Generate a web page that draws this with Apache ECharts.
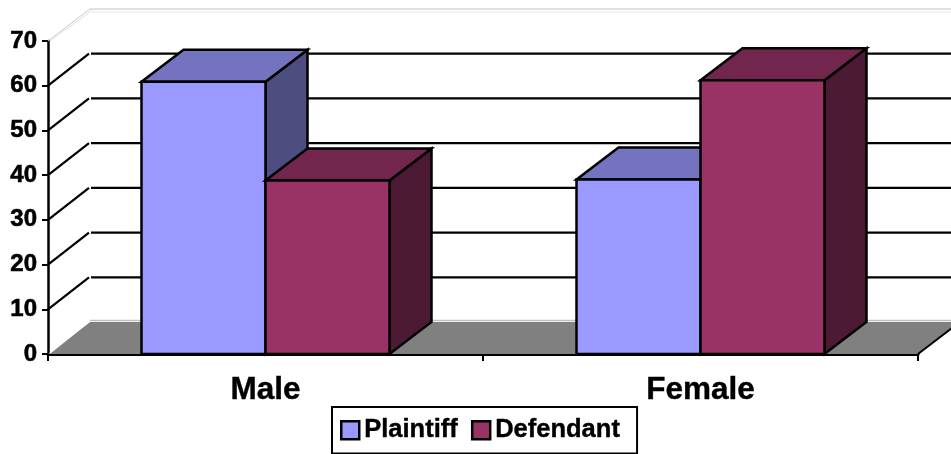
<!DOCTYPE html>
<html>
<head>
<meta charset="utf-8">
<style>html,body{margin:0;padding:0;background:#fff}#chart{width:951px;height:454px}</style>
<script src="https://cdn.jsdelivr.net/npm/echarts@6/dist/echarts.min.js"></script>
</head>
<body>
<div id="chart"></div>
<script>
const categories = ['Male', 'Female'];
const plaintiff = [60.9, 39.0];
const defendant = [38.8, 61.2];
const valueTicks = [0, 10, 20, 30, 40, 50, 60, 70];

// Oblique projection: how far the back plane sits from the front plane.
const DEPTH_X = 42;
const DEPTH_Y = -32;
const BAR_SHARE = 124 / 435;
const FONT = '"Liberation Sans", Arial, sans-serif';

function line(x1, y1, x2, y2, stroke, width) {
  return { type: 'line', silent: true, shape: { x1, y1, x2, y2 }, style: { stroke, lineWidth: width } };
}
function face(points, fill) {
  return {
    type: 'polygon', shape: { points },
    style: { fill, stroke: '#000', lineWidth: 2.5, lineJoin: 'miter' }
  };
}

// Back wall rules, side wall rules and the grey floor.
function renderWall(params, api) {
  const value = api.value(1);
  const band = api.size([1, 0])[0];
  const [first, y] = api.coord([0, value]);
  const [last] = api.coord([categories.length - 1, value]);
  const x0 = first - band / 2, x1 = last + band / 2;
  const backX0 = x0 + DEPTH_X, backX1 = x1 + DEPTH_X, backY = y + DEPTH_Y;
  const children = [];
  if (value === valueTicks[0]) {
    children.push({
      type: 'polygon', silent: true,
      shape: { points: [[x0, y], [backX0, backY], [backX1, backY], [x1, y]] },
      style: { fill: '#808080' }
    });
    children.push(line(x0 + 2, y - 1, backX0, backY - 1, '#ffffff', 1.5));
    children.push(line(backX0, backY - 1.5, backX1, backY - 1.5, '#c0c0c0', 1.5));
    children.push(line(x1, y, backX1, backY, '#000', 2));
  } else if (value === valueTicks[valueTicks.length - 1]) {
    children.push(line(x0, y, backX0, backY, '#c8c8c8', 1));
    children.push(line(x0 + 2, y, backX0 + 2, backY + 1.5, '#e0e0e0', 1));
    children.push(line(backX0, backY, backX1, backY, '#c0c0c0', 1));
    children.push(line(backX0 + 2, backY + 3, backX1, backY + 3, '#e4e4e4', 1));
  } else {
    children.push(line(x0, y, backX0 - 1, backY, '#000', 2.2));
    children.push(line(backX0 + 1, backY, backX1, backY, '#000', 2.2));
  }
  return { type: 'group', children };
}

// One oblique bar: front, top and side faces.
function barRenderer(slot, colors) {
  return function (params, api) {
    const cat = api.value(0);
    const [cx, top] = api.coord([cat, api.value(1)]);
    const [, base] = api.coord([cat, 0]);
    const w = api.size([1, 0])[0] * BAR_SHARE;
    const l = cx + slot * w, r = l + w;
    return {
      type: 'group',
      children: [
        face([[r, top], [r + DEPTH_X, top + DEPTH_Y], [r + DEPTH_X, base + DEPTH_Y], [r, base]], colors.side),
        face([[l, top], [l + DEPTH_X, top + DEPTH_Y], [r + DEPTH_X, top + DEPTH_Y], [r, top]], colors.top),
        face([[l, top], [r, top], [r, base], [l, base]], colors.front)
      ]
    };
  };
}

const plaintiffColors = { front: '#9999ff', top: '#7373bf', side: '#4d4d80' };
const defendantColors = { front: '#993366', top: '#73264d', side: '#4d1a33' };

const chart = echarts.init(document.getElementById('chart'), null, { renderer: 'canvas' });
chart.setOption({
  animation: false,
  backgroundColor: '#ffffff',
  grid: { left: 48, right: 33, top: 41, bottom: 100, containLabel: false },
  legend: {
    data: ['Plaintiff', 'Defendant'],
    left: 332, top: 407,
    padding: [10, 17, 10, 8],
    itemWidth: 18, itemHeight: 18, itemGap: 13,
    icon: 'rect',
    backgroundColor: '#ffffff',
    borderColor: '#000', borderWidth: 2, borderRadius: 0,
    selectedMode: false,
    itemStyle: { borderColor: '#000', borderWidth: 2.5 },
    textStyle: {
      fontFamily: FONT, fontWeight: 'bold', fontSize: 25.5, color: '#000',
      padding: [3, 0, 0, 0], textBorderColor: '#000', textBorderWidth: 0.4
    }
  },
  xAxis: {
    type: 'category',
    data: categories,
    axisLine: { lineStyle: { color: '#000', width: 3 } },
    axisTick: { show: true, alignWithLabel: false, length: 7, lineStyle: { color: '#000', width: 2 } },
    axisLabel: {
      fontFamily: FONT, fontWeight: 'bold', fontSize: 31.5, color: '#000', margin: 20,
      textBorderColor: '#000', textBorderWidth: 0.4
    },
    splitLine: { show: false }
  },
  yAxis: {
    type: 'value',
    min: 0, max: 70, interval: 10,
    axisLine: { show: true, lineStyle: { color: '#000', width: 2.5 } },
    axisTick: { show: true, length: 6, lineStyle: { color: '#000', width: 2 } },
    axisLabel: {
      fontFamily: FONT, fontWeight: 'bold', fontSize: 24, color: '#000', margin: 11,
      textBorderColor: '#000', textBorderWidth: 0.6, padding: [0, 0, 2, 0]
    },
    splitLine: { show: false }
  },
  series: [
    {
      type: 'custom', name: 'walls', silent: true, z: 1,
      coordinateSystem: 'cartesian2d',
      encode: { x: 0, y: 1 },
      data: valueTicks.map(v => [0, v]),
      renderItem: renderWall
    },
    {
      type: 'custom', name: 'Plaintiff', z: 3,
      itemStyle: { color: plaintiffColors.front },
      encode: { x: 0, y: 1 },
      data: plaintiff.map((v, i) => [i, v]),
      renderItem: barRenderer(-1, plaintiffColors)
    },
    {
      type: 'custom', name: 'Defendant', z: 4,
      itemStyle: { color: defendantColors.front },
      encode: { x: 0, y: 1 },
      data: defendant.map((v, i) => [i, v]),
      renderItem: barRenderer(0, defendantColors)
    }
  ]
});
</script>
</body>
</html>
